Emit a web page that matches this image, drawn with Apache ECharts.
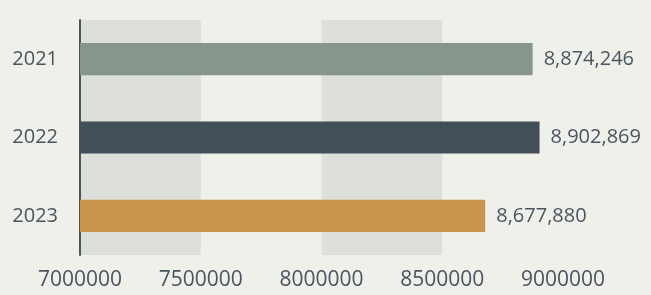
<!DOCTYPE html>
<html>
<head>
<meta charset="utf-8">
<script src="https://cdn.jsdelivr.net/npm/echarts@6/dist/echarts.min.js"></script>
<style>
  html, body { margin: 0; padding: 0; background: #f0f0eb; }
  #chart { width: 651px; height: 295px; }
</style>
</head>
<body>
<div id="chart"></div>
<script>
// 数据
const years = ['2021', '2022', '2023']
const values = [8874246, 8902869, 8677880]
const barColors = ['#87968b', '#434f58', '#c8944b']
const xTicks = [7000000, 7500000, 8000000, 8500000, 9000000]

const textColor = '#4a5560'
const chart = echarts.init(document.getElementById('chart'))

const option = {
  backgroundColor: '#f0f0eb',
  animation: false,
  grid: {
    left: 80,
    right: 88,
    top: 20,
    bottom: 40
  },
  xAxis: {
    type: 'value',
    min: xTicks[0],
    max: xTicks[xTicks.length - 1],
    interval: 500000,
    axisLine: { show: false },
    axisTick: { show: false },
    splitLine: { show: false },
    splitArea: {
      show: true,
      areaStyle: { color: ['#dddfda', 'rgba(0,0,0,0)'] }
    },
    axisLabel: {
      color: textColor,
      fontFamily: 'Open Sans',
      fontSize: 21,
      margin: 15,
      formatter: (v) => String(v)
    }
  },
  yAxis: {
    type: 'category',
    data: years,
    inverse: true,
    axisLine: { show: true, lineStyle: { color: textColor, width: 2 } },
    axisTick: { show: false },
    axisLabel: {
      color: textColor,
      fontFamily: 'Open Sans',
      fontSize: 20,
      margin: 22
    }
  },
  series: [
    {
      type: 'bar',
      barWidth: '41%',
      data: values.map((v, i) => ({ value: v, itemStyle: { color: barColors[i] } })),
      label: {
        show: true,
        position: 'right',
        distance: 11,
        color: textColor,
        fontFamily: 'Open Sans',
        fontSize: 20,
        formatter: (p) => p.value.toLocaleString('en-US')
      }
    }
  ]
}

chart.setOption(option)
</script>
</body>
</html>
